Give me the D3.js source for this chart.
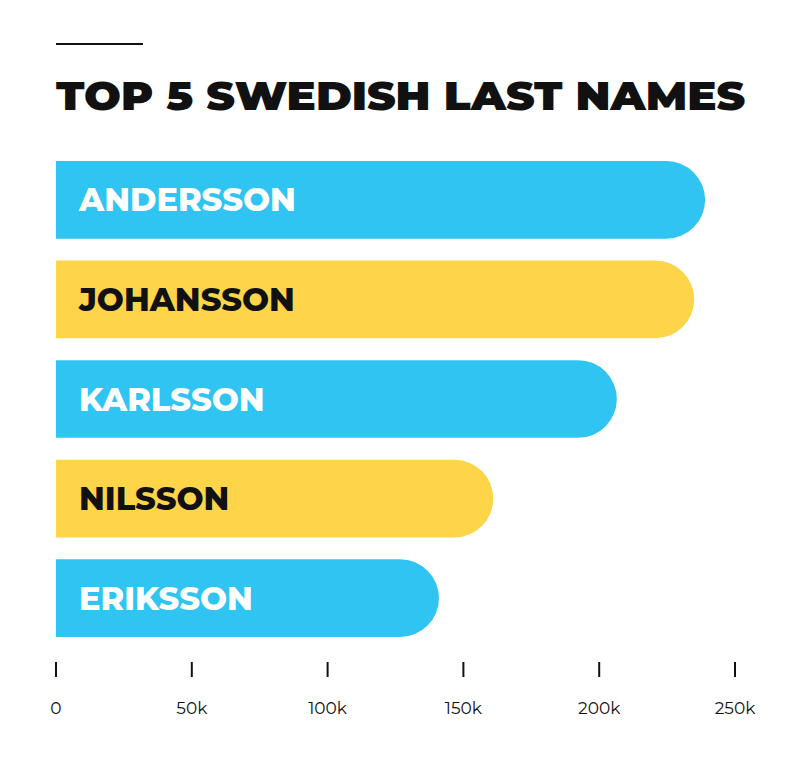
<!DOCTYPE html>
<html><head><meta charset="utf-8">
<script src="https://cdn.jsdelivr.net/npm/d3@7/dist/d3.min.js"></script>
<style>body{margin:0;background:#fff}</style></head>
<body><svg id="c" width="800" height="764"></svg>
<script>
const names = ["ANDERSSON","JOHANSSON","KARLSSON","NILSSON","ERIKSSON"];
const values = [239000,235000,206500,161000,141000];
const colors = ["#2FC4F2","#FED448","#2FC4F2","#FED448","#2FC4F2"];
const textColors = ["#ffffff","#111111","#ffffff","#111111","#ffffff"];
const ticks = [0,50000,100000,150000,200000,250000];

const svg = d3.select("#c");
const font = "Montserrat, Inter, 'DejaVu Sans', sans-serif";
svg.append("line").attr("x1",56).attr("x2",143).attr("y1",44).attr("y2",44).attr("stroke","#111").attr("stroke-width",2);
svg.append("text").attr("x",56).attr("y",110).text("TOP 5 SWEDISH LAST NAMES")
  .attr("font-family",font).attr("font-weight",900).attr("font-size",40).attr("fill","#111")
  .attr("textLength",689).attr("lengthAdjust","spacingAndGlyphs");

const x = d3.scaleLinear().domain([0,250000]).range([56,735]);
const y = d3.scaleBand().domain(names).range([161,637]).paddingInner(0.22).paddingOuter(0);
const h = y.bandwidth(), r = h/2;

names.forEach((n,i)=>{
  const x0 = x(0), x1 = x(values[i]), y0 = y(n);
  const p = `M${x0},${y0}H${x1-r}A${r},${r} 0 0 1 ${x1-r},${y0+h}H${x0}Z`;
  svg.append("path").attr("d",p).attr("fill",colors[i]);
  svg.append("text").attr("x",79).attr("y",y0+h/2).attr("dy","0.36em").text(n)
    .attr("font-family",font).attr("font-weight",800).attr("font-size",32).attr("fill",textColors[i]);
});

const g = svg.append("g");
ticks.forEach(t=>{
  g.append("line").attr("x1",x(t)).attr("x2",x(t)).attr("y1",662).attr("y2",677).attr("stroke","#111").attr("stroke-width",2);
  g.append("text").attr("x",x(t)).attr("y",714).attr("text-anchor","middle").text(t===0?"0":(t/1000)+"k")
    .attr("font-family",font).attr("font-size",17).attr("fill","#111");
});
</script></body></html>
